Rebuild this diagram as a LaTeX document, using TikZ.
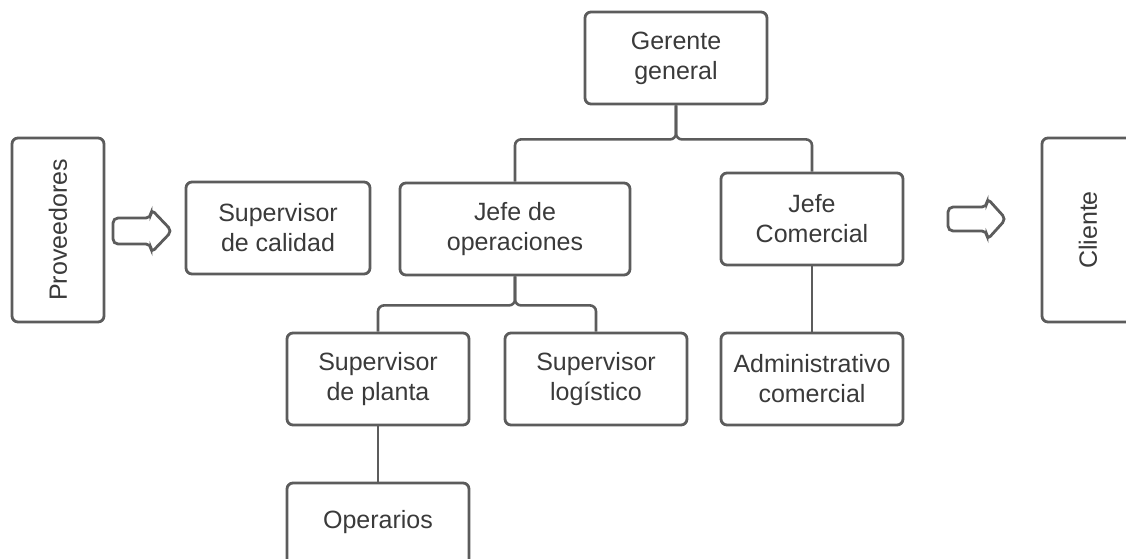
\documentclass[tikz,border=0pt]{standalone}
\usepackage{fontspec}
\setmainfont{Liberation Sans}
\usepackage{tikz}
\usetikzlibrary{calc,positioning}

\definecolor{linea}{HTML}{5C5C5C}
\definecolor{texto}{HTML}{3A3A3A}
\tikzset{
  caja/.style={draw=linea, line width=1.4pt, rounded corners=3pt,
    minimum width=91pt, minimum height=46pt, align=center, text=texto,
    font=\fontsize{12.5}{15}\selectfont},
  extremo/.style={caja, rotate=90, minimum width=92pt},
  enlace/.style={draw=linea, line width=1.3pt, rounded corners=3pt},
  flecha/.style={draw=linea, line width=1.4pt, rounded corners=2.5pt},
}

\begin{document}
\begin{tikzpicture}[x=0.5pt, y=-0.5pt]
        \useasboundingbox (0,0) rectangle (1126,558);
        % extremos de la cadena
        \node[extremo] (prov) at (58,230) {Proveedores};
        \node[extremo] (cli) at (1088,230) {Cliente};
        \draw[flecha] (113,218) -- (151,218) -- (151,209) -- (172,231)
          -- (151,253) -- (151,244) -- (113,244) -- cycle;
        \draw[flecha] (948,207) -- (987,207) -- (987,198) -- (1006,219)
          -- (987,240) -- (987,231) -- (948,231) -- cycle;
        % organigrama
        \node[caja] (ger) at (676,58) {Gerente\\general};
        \node[caja, minimum width=92pt] (scal) at (278,228) {Supervisor\\de calidad};
        \node[caja, minimum width=115pt] (jop) at (515,229) {Jefe de\\operaciones};
        \node[caja] (jcom) at (812,219) {Jefe\\Comercial};
        \node[caja] (splan) at (378,379) {Supervisor\\de planta};
        \node[caja] (slog) at (596,379) {Supervisor\\log\'istico};
        \node[caja] (adm) at (812,379) {Administrativo\\comercial};
        \node[caja, text depth=10pt] (oper) at (378,529) {Operarios};
        \draw[enlace] (ger.south) -- ++(0,34) -| (jop.north);
        \draw[enlace] (ger.south) -- ++(0,34) -| (jcom.north);
        \draw[enlace] (jop.south) -- ++(0,29) -| (splan.north);
        \draw[enlace] (jop.south) -- ++(0,29) -| (slog.north);
        \draw[enlace] (splan.south) -- (oper.north);
        \draw[enlace] (jcom.south) -- (adm.north);
      \end{tikzpicture}
\end{document}
